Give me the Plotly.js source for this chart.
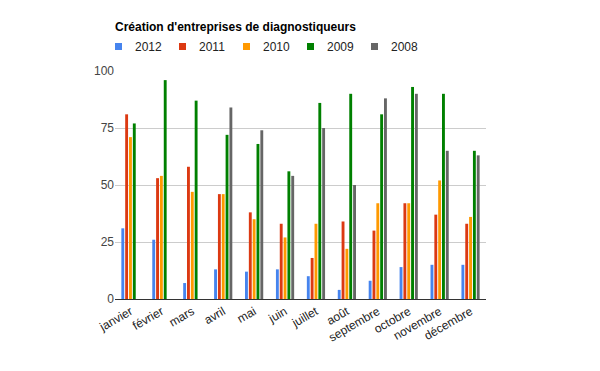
<!DOCTYPE html>
<html><head><meta charset="utf-8">
<script src="https://cdn.plot.ly/plotly-3.0.1.min.js"></script>
<style>body{margin:0;padding:0;background:#fff}#c{width:600px;height:371px}</style>
</head><body><div id="c"></div>
<script>
const months = ['janvier','février','mars','avril','mai','juin','juillet','août','septembre','octobre','novembre','décembre'];
const seriesNames = ['2012','2011','2010','2009','2008'];
const v2012 = [31, 26, 7, 13, 12, 13, 10, 4, 8, 14, 15, 15];
const v2011 = [81, 53, 58, 46, 38, 33, 18, 34, 30, 42, 37, 33];
const v2010 = [71, 54, 47, 46, 35, 27, 33, 22, 42, 42, 52, 36];
const v2009 = [77, 96, 87, 72, 68, 56, 86, 90, 81, 93, 90, 65];
const v2008 = [0, 0, 0, 84, 74, 54, 75, 50, 88, 90, 65, 63];
const colors = ['#4684ee','#dc3912','#ff9900','#008000','#666666'];
const yTicks = [0, 25, 50, 75, 100];

const values = [v2012, v2011, v2010, v2009, v2008];
const traces = values.map((v, i) => ({
  type: 'bar', name: seriesNames[i], x: months, y: v,
  marker: {color: colors[i]}, hoverinfo: 'x+y+name'
}));

// plot area in pixels: left 115, width 371, top 71, height 228
const PL = 115, PW = 371, PB = 299, PH = 228;
const px = p => (p - PL) / PW;
const py = p => (PB - p) / PH;
const shapes = [], annotations = [];
seriesNames.forEach((n, i) => {
  const x0 = 115 + 64 * i;
  shapes.push({type: 'rect', xref: 'paper', yref: 'paper', x0: px(x0), x1: px(x0 + 7), y0: py(50), y1: py(43),
               fillcolor: colors[i], line: {width: 0}});
  annotations.push({xref: 'paper', yref: 'paper', x: px(x0 + 18), y: py(46.5), xanchor: 'left', yanchor: 'middle',
                    text: n, showarrow: false, font: {size: 12, color: '#222'}});
});

const layout = {
  width: 600, height: 371,
  margin: {l: 115, r: 114, t: 71, b: 72},
  paper_bgcolor: '#fff', plot_bgcolor: '#fff',
  font: {family: 'Arial, "Liberation Sans", sans-serif', size: 12, color: '#222'},
  title: {text: "<b>Création d'entreprises de diagnostiqueurs</b>", x: 115/600, xanchor: 'left', y: 1 - 27/371, yanchor: 'middle',
          font: {size: 12, color: '#000'}},
  barmode: 'group', bargap: 0.38, bargroupgap: 0.25,
  showlegend: false,
  shapes: shapes, annotations: annotations,
  xaxis: {tickangle: -30, showgrid: false, showline: true, linecolor: '#333', linewidth: 1,
          ticks: '', tickfont: {size: 12, color: '#222'}, zeroline: false, fixedrange: true},
  yaxis: {range: [0, 100], tickvals: yTicks, ticktext: yTicks.map(String), showgrid: true, gridcolor: '#cccccc',
          zeroline: false, showline: false, ticks: '', ticklen: 8, tickfont: {size: 12, color: '#444'}, fixedrange: true}
};
Plotly.newPlot('c', traces, layout, {displayModeBar: false, staticPlot: true});
</script></body></html>
